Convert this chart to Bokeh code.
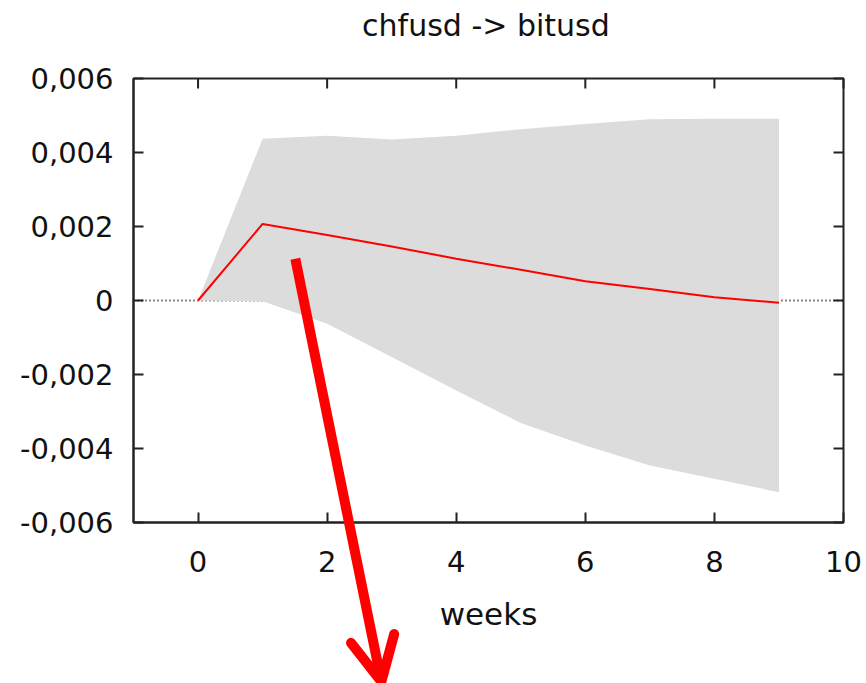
from bokeh.plotting import figure
from bokeh.models import (Range1d, LinearAxis, FixedTicker, CustomJSTickFormatter,
                          Arrow, OpenHead, BoxAnnotation, Label)
from bokeh.embed import file_html
from bokeh.resources import INLINE

# ---- data ----
weeks = [0, 1, 2, 3, 4, 5, 6, 7, 8, 9]
response = [0.0, 0.00207, 0.00177, 0.00146, 0.00113, 0.00083, 0.00052, 0.00031, 0.00009, -0.00006]
upper = [0.0, 0.00437, 0.00445, 0.00435, 0.00445, 0.00463, 0.00477, 0.00490, 0.00491, 0.00491]
lower = [0.0, -0.00002, -0.00063, -0.00153, -0.00243, -0.00331, -0.00392, -0.00446, -0.00482, -0.00518]
x_ticks = [0, 2, 4, 6, 8, 10]
y_ticks = [-0.006, -0.004, -0.002, 0.0, 0.002, 0.004, 0.006]
title_text = "chfusd -> bitusd"
x_label = "weeks"
# annotation arrow (data coordinates)
arrow_start = (1.507, 0.00113)
arrow_end = (2.84, -0.0103)

FONT = "DejaVu Sans"
W, H = 866, 683
# plot box (axes) in canvas pixels
BOX_L, BOX_R, BOX_T, BOX_B = 133, 843, 78, 522
X0, X1 = -1, 10
Y0, Y1 = -0.006, 0.006

kx = (BOX_R - BOX_L) / (X1 - X0)
ky = (BOX_B - BOX_T) / (Y1 - Y0)
# the drawing area covers the whole canvas so the arrow can leave the axes box
xr = Range1d(X0 - BOX_L / kx, X1 + (W - BOX_R) / kx)
yr = Range1d(Y0 - (H - BOX_B) / ky, Y1 + BOX_T / ky)

p = figure(width=W, height=H, min_border=0,
           x_range=xr, y_range=yr,
           x_axis_location=None, y_axis_location=None,
           output_backend="svg", toolbar_location=None)
p.xgrid.visible = False
p.ygrid.visible = False
p.outline_line_color = None
p.background_fill_color = "white"
p.border_fill_color = "white"

AX_COLOR = "#222222"
TXT_COLOR = "#111111"

fmt = CustomJSTickFormatter(code="""
if (Math.abs(tick) < 1e-12) return "0";
return tick.toFixed(3).replace(".", ",");
""")

def style_axis(ax, ticks):
    ax.ticker = FixedTicker(ticks=ticks)
    ax.axis_line_color = AX_COLOR
    ax.axis_line_width = 2
    ax.major_tick_line_color = AX_COLOR
    ax.major_tick_line_width = 2
    ax.major_tick_in = 10
    ax.major_tick_out = 0
    ax.minor_tick_line_color = None
    ax.major_label_text_font = FONT
    ax.major_label_text_color = TXT_COLOR
    ax.major_label_text_font_size = "29px"

xax = LinearAxis(fixed_location=Y0, bounds=(X0, X1))
style_axis(xax, x_ticks)
xax.major_label_standoff = 28
xax.axis_label = x_label
xax.axis_label_text_font = FONT
xax.axis_label_text_font_size = "31px"
xax.axis_label_text_font_style = "normal"
xax.axis_label_text_color = TXT_COLOR
xax.axis_label_standoff = 21
p.add_layout(xax, "below")

yax = LinearAxis(fixed_location=X0, bounds=(Y0, Y1))
style_axis(yax, y_ticks)
yax.major_label_standoff = 20
yax.formatter = fmt
p.add_layout(yax, "left")

# zero reference line (dotted), drawn under the band
p.segment(x0=X0, y0=0, x1=X1, y1=0, line_color="#111111", line_width=2, line_dash="1 3")

p.varea(x=weeks, y1=lower, y2=upper, fill_color="#dcdcdc", fill_alpha=1.0)
p.line(x=weeks, y=response, line_color="#ff0000", line_width=2)

# frame box and mirrored ticks on top / right
p.add_layout(BoxAnnotation(left=X0, right=X1, bottom=Y0, top=Y1,
                           fill_color=None, fill_alpha=0,
                           line_color=AX_COLOR, line_width=2, line_alpha=1.0))
TICK = 10
p.segment(x0=x_ticks, y0=[Y1] * len(x_ticks), x1=x_ticks, y1=[Y1 - TICK / ky] * len(x_ticks),
          line_color=AX_COLOR, line_width=2)
p.segment(x0=[X1] * len(y_ticks), y0=y_ticks, x1=[X1 - TICK / kx] * len(y_ticks), y1=y_ticks,
          line_color=AX_COLOR, line_width=2)

# title
p.add_layout(Label(x=(X0 + X1) / 2 - 0.04, y=Y1 + 53 / ky, text=title_text,
                   text_align="center", text_baseline="alphabetic",
                   text_font=FONT, text_font_size="30px", text_color=TXT_COLOR))

# red arrow annotation
p.add_layout(Arrow(x_start=arrow_start[0], y_start=arrow_start[1],
                   x_end=arrow_end[0], y_end=arrow_end[1],
                   line_color="#ff0000", line_width=10,
                   end=OpenHead(size=44, line_color="#ff0000", line_width=10,
                                line_cap="round", line_join="round")))

open("out.html", "w").write(file_html(p, INLINE))
